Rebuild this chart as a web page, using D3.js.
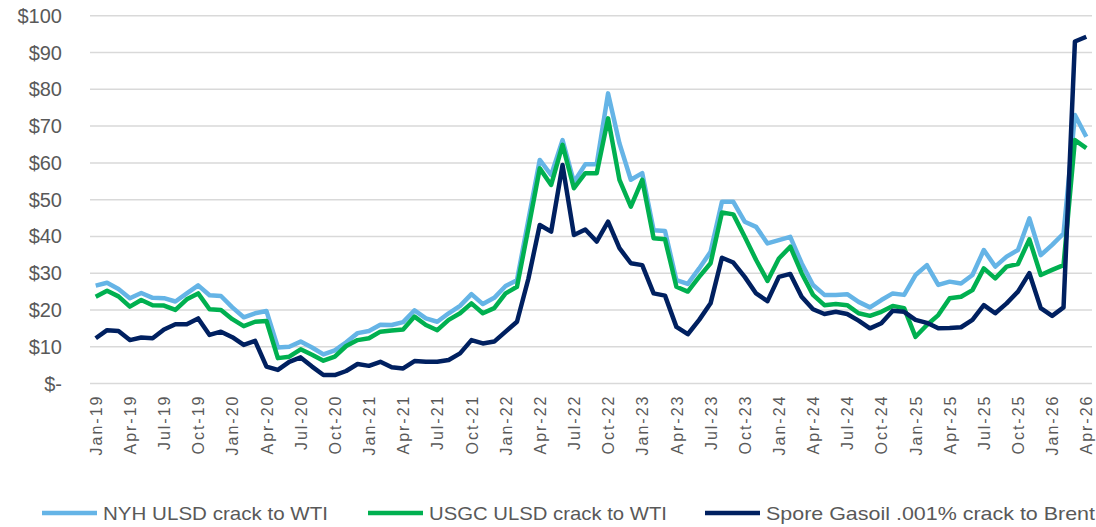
<!DOCTYPE html>
<html>
<head>
<meta charset="utf-8">
<script src="https://cdn.jsdelivr.net/npm/d3@7"></script>
<style>
  body { margin: 0; background: #fff; }
  svg text { font-family: "Liberation Sans", Arial, sans-serif; fill: #595959; }
</style>
</head>
<body>
<svg id="chart" width="1096" height="527"></svg>
<script>
// months Jan-19 .. Apr-26
var months = d3.timeMonth.range(new Date(2019, 0, 1), new Date(2026, 4, 1)).map(d3.timeFormat("%b-%y"));

var yTicks = [0, 10, 20, 30, 40, 50, 60, 70, 80, 90, 100];

var nyh = [26.6, 27.4, 25.7, 23.2, 24.6, 23.3, 23.2, 22.3, 24.5, 26.7, 24.0, 23.8, 20.7, 18.0, 19.1, 19.7,
  9.8, 10.0, 11.4, 9.8, 7.9, 9.0, 11.2, 13.7, 14.3, 16.0, 15.9, 16.7, 19.9, 17.7, 16.8, 19.1,
  21.1, 24.3, 21.6, 23.3, 26.5, 28.1, 44.5, 60.8, 56.7, 66.2, 54.8, 59.6, 59.6, 78.9, 65.3, 55.4,
  57.2, 41.7, 41.5, 28.1, 27.1, 31.3, 35.8, 49.4, 49.4, 44.0, 42.6, 38.1, 39.0, 39.9, 32.7, 26.8,
  24.1, 24.1, 24.3, 22.2, 20.7, 22.7, 24.5, 24.1, 29.5, 32.2, 26.8, 27.7, 27.2, 29.5, 36.3, 31.8,
  34.5, 36.3, 44.9, 34.9, 37.7, 40.8, 73.0, 67.1];

var usgc = [23.6, 25.2, 23.7, 20.9, 22.7, 21.3, 21.2, 20.0, 22.9, 24.5, 20.2, 20.0, 17.5, 15.6, 16.8, 17.0,
  6.9, 7.3, 9.3, 7.8, 6.2, 7.3, 10.2, 11.8, 12.3, 14.1, 14.4, 14.7, 18.2, 15.9, 14.5, 17.3,
  19.1, 21.8, 19.1, 20.5, 24.5, 26.3, 42.2, 58.5, 54.0, 64.9, 53.1, 57.2, 57.2, 72.1, 55.4, 48.1,
  55.4, 39.5, 39.2, 26.3, 25.0, 29.0, 32.7, 46.5, 46.0, 39.9, 33.6, 27.9, 34.0, 37.2, 30.0, 24.1,
  21.3, 21.6, 21.3, 19.1, 18.4, 19.5, 21.1, 20.5, 12.7, 15.9, 18.6, 23.2, 23.6, 25.4, 31.3, 28.6,
  31.8, 32.5, 39.2, 29.5, 30.9, 32.2, 66.2, 64.0];

var spore = [12.3, 14.5, 14.3, 11.8, 12.5, 12.3, 14.7, 16.1, 16.1, 17.7, 13.2, 14.1, 12.6, 10.5, 11.6, 4.6,
  3.7, 5.9, 7.1, 4.6, 2.3, 2.3, 3.4, 5.3, 4.8, 5.9, 4.4, 4.1, 6.1, 5.9, 5.9, 6.4,
  8.2, 11.8, 10.9, 11.4, 14.1, 16.8, 28.5, 43.1, 41.3, 59.4, 40.4, 41.9, 38.6, 44.0, 36.8, 32.7,
  32.2, 24.5, 23.9, 15.4, 13.4, 17.3, 21.8, 34.2, 32.9, 29.0, 24.5, 22.4, 29.0, 29.8, 23.6, 20.2,
  18.9, 19.5, 18.9, 17.1, 15.0, 16.4, 19.8, 19.5, 17.3, 16.5, 15.0, 15.1, 15.3, 17.3, 21.3, 19.1,
  21.8, 25.0, 30.0, 20.5, 18.4, 20.7, 93.0, 94.3];

var seriesNames = ["NYH ULSD crack to WTI", "USGC ULSD crack to WTI", "Spore Gasoil .001% crack to Brent"];
var seriesColors = ["#65B4E6", "#00B050", "#002060"];

var svg = d3.select("#chart");

var margin = {top: 15.8, right: 4, bottom: 143.5, left: 90};
var width = 1096, height = 527;

var x = d3.scalePoint()
  .domain(months)
  .range([margin.left, width - margin.right])
  .padding(0.5);

var y = d3.scaleLinear()
  .domain([0, 100])
  .range([height - margin.bottom, margin.top]);

// gridlines
svg.append("g")
  .selectAll("line")
  .data(yTicks)
  .enter().append("line")
    .attr("x1", margin.left)
    .attr("x2", width - margin.right)
    .attr("y1", d => y(d))
    .attr("y2", d => y(d))
    .attr("stroke", "#D9D9D9")
    .attr("stroke-width", 1.5);

// y axis labels
svg.append("g")
  .selectAll("text")
  .data(yTicks)
  .enter().append("text")
    .attr("x", 62)
    .attr("y", d => y(d))
    .attr("dy", "0.35em")
    .attr("text-anchor", "end")
    .attr("font-size", 20)
    .text(d => d === 0 ? "$-" : "$" + d);

// x axis labels, every 3rd month
var xAxis = d3.axisBottom(x)
  .tickValues(months.filter((m, i) => i % 3 === 0))
  .tickSize(0);

var gx = svg.append("g")
  .attr("transform", `translate(0,${y(0)})`)
  .call(xAxis);
gx.select(".domain").remove();
gx.selectAll("text")
  .attr("transform", "rotate(-90)")
  .attr("x", -11)
  .attr("y", 0)
  .attr("dy", "0.35em")
  .attr("text-anchor", "end")
  .attr("font-size", 16)
  .attr("font-family", "Liberation Sans, Arial, sans-serif")
  .attr("letter-spacing", 2)
  .attr("fill", "#595959");

// lines
var line = d3.line()
  .x((d, i) => x(months[i]))
  .y(d => y(d));

[nyh, usgc, spore].forEach(function(s, k) {
  svg.append("path")
    .datum(s)
    .attr("fill", "none")
    .attr("stroke", seriesColors[k])
    .attr("stroke-width", 4.5)
    .attr("stroke-linejoin", "round")
    .attr("d", line);
});

// legend
var legendX = [42, 368, 705];
var legendLen = [225, 238, 329];
var legend = svg.append("g");
seriesNames.forEach(function(name, k) {
  legend.append("line")
    .attr("x1", legendX[k])
    .attr("x2", legendX[k] + 55)
    .attr("y1", 513)
    .attr("y2", 513)
    .attr("stroke", seriesColors[k])
    .attr("stroke-width", 4.5);
  legend.append("text")
    .attr("x", legendX[k] + 61)
    .attr("y", 513)
    .attr("dy", "0.35em")
    .attr("font-size", 19)
    .attr("textLength", legendLen[k])
    .attr("lengthAdjust", "spacingAndGlyphs")
    .text(name);
});
</script>
</body>
</html>
